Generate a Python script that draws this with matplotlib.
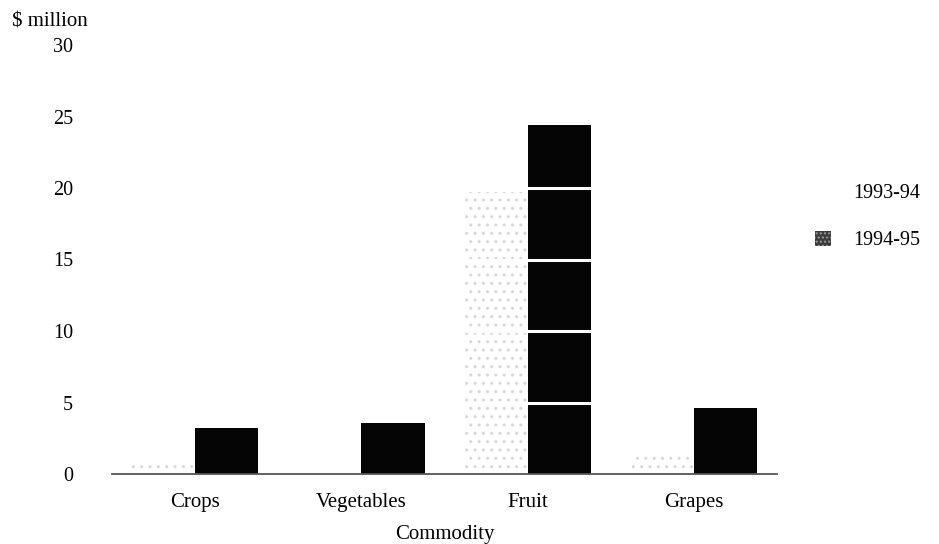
import matplotlib
matplotlib.use("Agg")
import matplotlib.pyplot as plt
import numpy as np
from matplotlib.patches import Patch

categories = ["Crops", "Vegetables", "Fruit", "Grapes"]
series_names = ["1993-94", "1994-95"]
values_9394 = [0.6, 0.3, 19.7, 1.4]
values_9495 = [3.2, 3.6, 24.4, 4.6]
yticks = [0, 5, 10, 15, 20, 25, 30]

plt.rcParams['font.family'] = ['Liberation Serif', 'DejaVu Serif']

fig = plt.figure(figsize=(9.39, 5.44), dpi=100)
ax = fig.add_axes([112 / 939, 70 / 544, 665 / 939, 429 / 544])

x = np.arange(len(categories))
w = 0.38
ax.bar(x - w / 2, values_9394, width=w, align='center', color='white',
       edgecolor='#d8d8d8', hatch='..', linewidth=0, zorder=2)
ax.bar(x + w / 2, values_9495, width=w, align='center', color='#050505',
       linewidth=0, zorder=2)

for yv in yticks[1:-1]:
    ax.axhline(yv, color='white', linewidth=2.2, zorder=3)

ax.set_xlim(-0.5, len(categories) - 0.5)
ax.set_ylim(0, 30)
ax.set_yticks(yticks)
ax.set_yticklabels([str(v) for v in yticks], fontsize=14.5)
ax.set_xticks(x)
ax.set_xticklabels(categories, fontsize=15)
ax.tick_params(axis='both', length=0)
ax.tick_params(axis='y', pad=28)
ax.tick_params(axis='x', pad=14)
for s in ['top', 'right', 'left']:
    ax.spines[s].set_visible(False)
ax.spines['bottom'].set_color('#555555')
ax.spines['bottom'].set_linewidth(1.3)
ax.spines['bottom'].set_zorder(4)

ax.set_xlabel("Commodity", fontsize=15, labelpad=9)
fig.text(12 / 939, 1 - 22 / 544, "\\$ million", fontsize=15, ha='left', va='center')

handles = [Patch(facecolor='white', edgecolor='white'),
           Patch(facecolor='#3c3c3c', edgecolor='#999999', hatch='....', linewidth=0)]
fig.legend(handles, series_names, loc='center left',
           bbox_to_anchor=(797 / 939, 1 - 217 / 544), frameon=False,
           fontsize=14.5, handlelength=0.8, handleheight=0.8,
           handletextpad=1.1, labelspacing=1.35)

fig.savefig("out.png", dpi=100)
